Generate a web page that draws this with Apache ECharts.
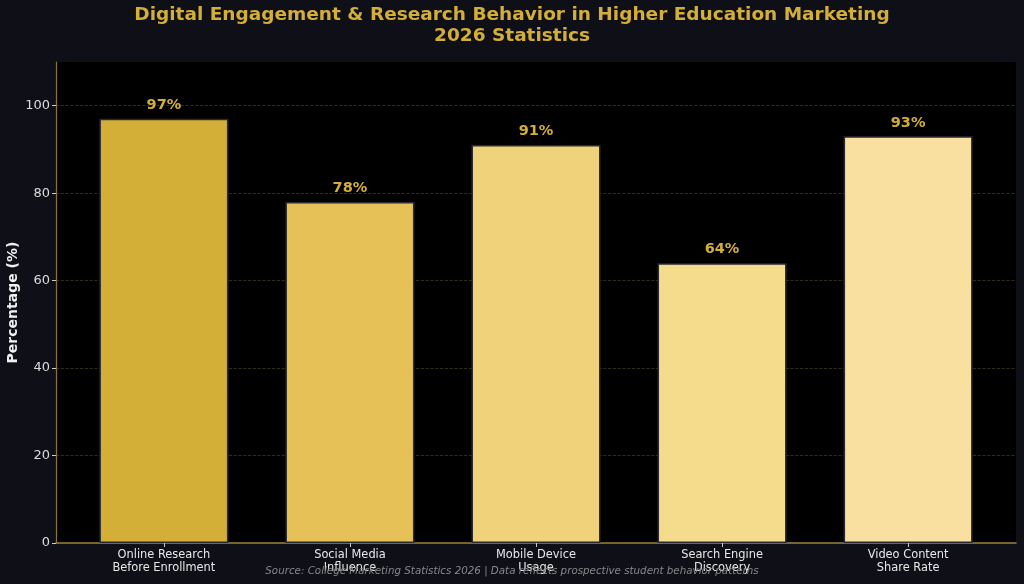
<!DOCTYPE html>
<html>
<head>
<meta charset="utf-8">
<script src="https://cdn.jsdelivr.net/npm/echarts@6/dist/echarts.min.js"></script>
<style>
  html, body { margin: 0; padding: 0; background: #0f0f17; }
  #chart { width: 1024px; height: 584px; }
</style>
</head>
<body>
<div id="chart"></div>
<script>
const categories = [
  'Online Research\nBefore Enrollment',
  'Social Media\nInfluence',
  'Mobile Device\nUsage',
  'Search Engine\nDiscovery',
  'Video Content\nShare Rate'
]
const values = [97, 78, 91, 64, 93]
const barColors = ['#D4AF37', '#E5C158', '#F0D27A', '#F5DC8C', '#F9DFA0']
const yTicks = { min: 0, max: 110, interval: 20 }
const catIndex = [0, 1, 2, 3, 4]

const gold = '#D4AF37'
const font = 'DejaVu Sans'

const chart = echarts.init(document.getElementById('chart'))
chart.setOption({
  backgroundColor: '#0f0f17',
  animation: false,
  title: [
    {
      text: 'Digital Engagement & Research Behavior in Higher Education Marketing\n2026 Statistics',
      left: 'center',
      top: 0,
      textStyle: {
        color: gold,
        fontFamily: font,
        fontSize: 18.5,
        fontWeight: 'bold',
        lineHeight: 21
      }
    },
    {
      text: 'Source: College Marketing Statistics 2026 | Data reflects prospective student behavior patterns',
      left: 'center',
      top: 561,
      textStyle: {
        color: '#888888',
        fontFamily: font,
        fontSize: 10.3,
        fontStyle: 'italic',
        fontWeight: 'normal'
      }
    }
  ],
  grid: {
    left: 56,
    right: 8,
    top: 62,
    bottom: 41,
    outerBoundsMode: 'none',
    containLabel: false,
    show: true,
    backgroundColor: '#000000',
    borderWidth: 0
  },
  xAxis: {
    type: 'value',
    min: -0.58,
    max: 4.58,
    splitLine: { show: false },
    axisLine: { show: true, onZero: false, lineStyle: { color: '#9C843E', width: 1.5 } },
    axisTick: {
      show: true,
      customValues: catIndex,
      length: 4,
      lineStyle: { color: '#cccccc' }
    },
    axisLabel: {
      customValues: catIndex,
      formatter: (v) => categories[Math.round(v)] || '',
      color: '#e8e8e8',
      fontFamily: font,
      fontSize: 11.4,
      lineHeight: 13,
      margin: 6
    }
  },
  yAxis: {
    type: 'value',
    min: yTicks.min,
    max: yTicks.max,
    interval: yTicks.interval,
    name: 'Percentage (%)',
    nameLocation: 'middle',
    nameGap: 36,
    nameMoveOverlap: false,
    nameTextStyle: {
      color: '#f0f0f0',
      fontFamily: font,
      fontSize: 14,
      fontWeight: 'bold'
    },
    axisLine: { show: true, onZero: false, lineStyle: { color: '#8B7536', width: 1.2 } },
    axisTick: { show: true, length: 4, lineStyle: { color: '#cccccc' } },
    axisLabel: {
      color: '#dddddd',
      fontFamily: font,
      fontSize: 13,
      margin: 6,
      showMaxLabel: false
    },
    splitLine: {
      showMaxLine: false,
      showMinLine: false,
      lineStyle: { color: '#3a3a1a', type: 'dashed', width: 0.8 }
    }
  },
  series: [
    {
      type: 'bar',
      barWidth: 129,
      data: values.map((v, i) => ({
        value: [catIndex[i], v],
        itemStyle: { color: barColors[i] }
      })),
      itemStyle: { borderColor: '#2a2a35', borderWidth: 1.5 },
      label: {
        show: true,
        position: 'top',
        distance: 6,
        formatter: (p) => p.value[1] + '%',
        color: gold,
        fontFamily: font,
        fontSize: 14.5,
        fontWeight: 'bold'
      }
    }
  ]
})
</script>
</body>
</html>
